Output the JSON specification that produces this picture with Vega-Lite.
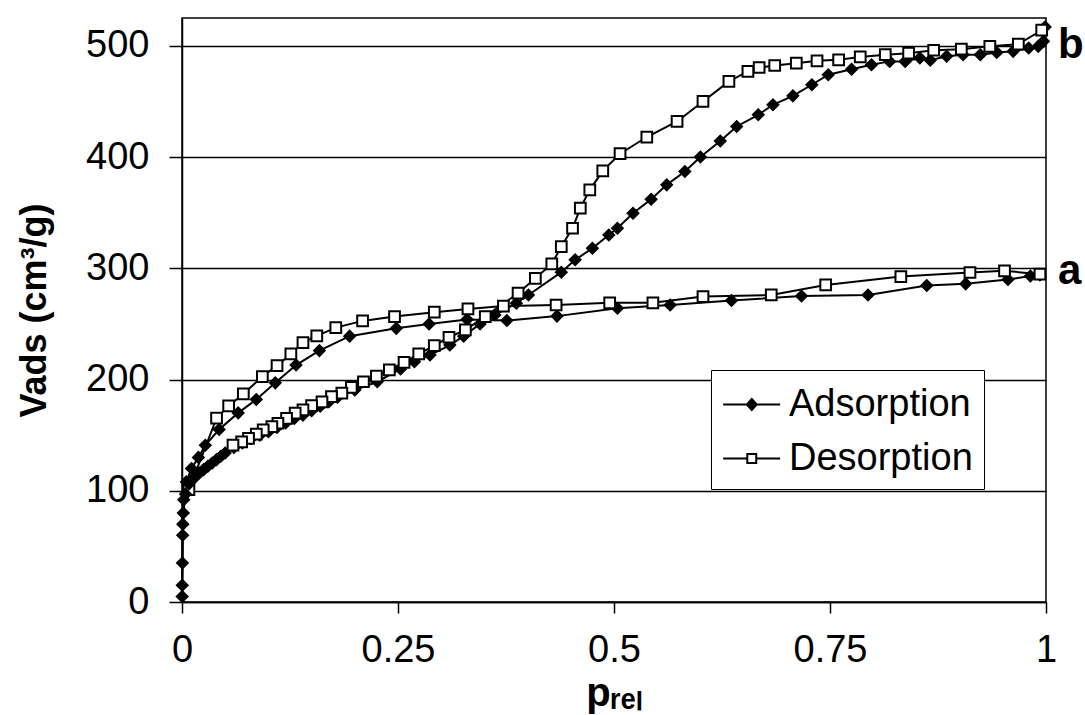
{
  "$schema": "https://vega.github.io/schema/vega-lite/v6.json",
  "width": 864,
  "height": 584,
  "autosize": "none",
  "padding": {"left": 182, "top": 18, "right": 39, "bottom": 113},
  "background": "white",
  "config": {
    "view": {"stroke": "black", "strokeWidth": 1.5},
    "font": "Liberation Sans",
    "axis": {
      "domainColor": "black", "domainWidth": 1.5,
      "tickColor": "black", "tickWidth": 1.5,
      "labelColor": "black", "labelFont": "Liberation Sans", "labelFontSize": 38,
      "titleColor": "black", "titleFont": "Liberation Sans", "titleFontWeight": "bold",
      "labelFlush": false, "labelOverlap": false
    },
    "legend": {
      "title": null, "orient": "none", "legendX": 529, "legendY": 352,
      "strokeColor": "black", "fillColor": "white", "padding": 11,
      "labelFont": "Liberation Sans", "labelFontSize": 38, "labelColor": "black",
      "labelLimit": 0, "labelOffset": 20, "rowPadding": 11,
      "symbolSize": 2000, "symbolStrokeWidth": 2, "symbolStrokeColor": "black",
      "symbolOpacity": 1
    }
  },
  "datasets": {
    "iso": [
      {"sample": "a", "type": "Adsorption", "p": 0.0002, "v": 5},
      {"sample": "a", "type": "Adsorption", "p": 0.0005, "v": 35},
      {"sample": "a", "type": "Adsorption", "p": 0.001, "v": 70},
      {"sample": "a", "type": "Adsorption", "p": 0.002, "v": 92},
      {"sample": "a", "type": "Adsorption", "p": 0.005, "v": 108},
      {"sample": "a", "type": "Adsorption", "p": 0.011, "v": 120},
      {"sample": "a", "type": "Adsorption", "p": 0.019, "v": 130},
      {"sample": "a", "type": "Adsorption", "p": 0.027, "v": 141},
      {"sample": "a", "type": "Adsorption", "p": 0.043, "v": 155},
      {"sample": "a", "type": "Adsorption", "p": 0.065, "v": 170},
      {"sample": "a", "type": "Adsorption", "p": 0.086, "v": 182},
      {"sample": "a", "type": "Adsorption", "p": 0.108, "v": 197},
      {"sample": "a", "type": "Adsorption", "p": 0.132, "v": 213},
      {"sample": "a", "type": "Adsorption", "p": 0.159, "v": 226},
      {"sample": "a", "type": "Adsorption", "p": 0.194, "v": 239},
      {"sample": "a", "type": "Adsorption", "p": 0.248, "v": 246},
      {"sample": "a", "type": "Adsorption", "p": 0.286, "v": 250},
      {"sample": "a", "type": "Adsorption", "p": 0.33, "v": 254},
      {"sample": "a", "type": "Adsorption", "p": 0.376, "v": 253},
      {"sample": "a", "type": "Adsorption", "p": 0.434, "v": 257},
      {"sample": "a", "type": "Adsorption", "p": 0.504, "v": 264},
      {"sample": "a", "type": "Adsorption", "p": 0.565, "v": 267},
      {"sample": "a", "type": "Adsorption", "p": 0.636, "v": 271},
      {"sample": "a", "type": "Adsorption", "p": 0.717, "v": 275},
      {"sample": "a", "type": "Adsorption", "p": 0.794, "v": 276},
      {"sample": "a", "type": "Adsorption", "p": 0.862, "v": 284.6},
      {"sample": "a", "type": "Adsorption", "p": 0.907, "v": 286},
      {"sample": "a", "type": "Adsorption", "p": 0.956, "v": 290},
      {"sample": "a", "type": "Adsorption", "p": 0.982, "v": 293},
      {"sample": "a", "type": "Adsorption", "p": 0.993, "v": 294},
      {"sample": "a", "type": "Desorption", "p": 0.993, "v": 294.7},
      {"sample": "a", "type": "Desorption", "p": 0.952, "v": 297.7},
      {"sample": "a", "type": "Desorption", "p": 0.912, "v": 296.2},
      {"sample": "a", "type": "Desorption", "p": 0.832, "v": 292.6},
      {"sample": "a", "type": "Desorption", "p": 0.745, "v": 285},
      {"sample": "a", "type": "Desorption", "p": 0.682, "v": 276},
      {"sample": "a", "type": "Desorption", "p": 0.603, "v": 274.6},
      {"sample": "a", "type": "Desorption", "p": 0.545, "v": 269},
      {"sample": "a", "type": "Desorption", "p": 0.495, "v": 269},
      {"sample": "a", "type": "Desorption", "p": 0.433, "v": 267},
      {"sample": "a", "type": "Desorption", "p": 0.372, "v": 266},
      {"sample": "a", "type": "Desorption", "p": 0.331, "v": 263.5},
      {"sample": "a", "type": "Desorption", "p": 0.292, "v": 260.5},
      {"sample": "a", "type": "Desorption", "p": 0.246, "v": 256.6},
      {"sample": "a", "type": "Desorption", "p": 0.209, "v": 252.7},
      {"sample": "a", "type": "Desorption", "p": 0.178, "v": 246.7},
      {"sample": "a", "type": "Desorption", "p": 0.156, "v": 239.2},
      {"sample": "a", "type": "Desorption", "p": 0.14, "v": 233.2},
      {"sample": "a", "type": "Desorption", "p": 0.126, "v": 223},
      {"sample": "a", "type": "Desorption", "p": 0.11, "v": 212.5},
      {"sample": "a", "type": "Desorption", "p": 0.093, "v": 202.6},
      {"sample": "a", "type": "Desorption", "p": 0.071, "v": 187},
      {"sample": "a", "type": "Desorption", "p": 0.054, "v": 176.3},
      {"sample": "a", "type": "Desorption", "p": 0.04, "v": 165.2},
      {"sample": "a", "type": "Desorption", "p": 0.008, "v": 101},
      {"sample": "b", "type": "Adsorption", "p": 0.0003, "v": 15},
      {"sample": "b", "type": "Adsorption", "p": 0.0008, "v": 60},
      {"sample": "b", "type": "Adsorption", "p": 0.0015, "v": 80},
      {"sample": "b", "type": "Adsorption", "p": 0.004, "v": 97},
      {"sample": "b", "type": "Adsorption", "p": 0.008, "v": 106},
      {"sample": "b", "type": "Adsorption", "p": 0.012, "v": 110},
      {"sample": "b", "type": "Adsorption", "p": 0.016, "v": 113},
      {"sample": "b", "type": "Adsorption", "p": 0.02, "v": 116},
      {"sample": "b", "type": "Adsorption", "p": 0.025, "v": 119},
      {"sample": "b", "type": "Adsorption", "p": 0.03, "v": 122},
      {"sample": "b", "type": "Adsorption", "p": 0.035, "v": 125},
      {"sample": "b", "type": "Adsorption", "p": 0.04, "v": 128},
      {"sample": "b", "type": "Adsorption", "p": 0.045, "v": 131},
      {"sample": "b", "type": "Adsorption", "p": 0.05, "v": 134},
      {"sample": "b", "type": "Adsorption", "p": 0.06, "v": 139},
      {"sample": "b", "type": "Adsorption", "p": 0.07, "v": 143},
      {"sample": "b", "type": "Adsorption", "p": 0.08, "v": 147},
      {"sample": "b", "type": "Adsorption", "p": 0.09, "v": 150},
      {"sample": "b", "type": "Adsorption", "p": 0.1, "v": 153},
      {"sample": "b", "type": "Adsorption", "p": 0.11, "v": 157},
      {"sample": "b", "type": "Adsorption", "p": 0.12, "v": 161},
      {"sample": "b", "type": "Adsorption", "p": 0.13, "v": 165},
      {"sample": "b", "type": "Adsorption", "p": 0.14, "v": 168},
      {"sample": "b", "type": "Adsorption", "p": 0.15, "v": 172},
      {"sample": "b", "type": "Adsorption", "p": 0.16, "v": 176},
      {"sample": "b", "type": "Adsorption", "p": 0.17, "v": 180},
      {"sample": "b", "type": "Adsorption", "p": 0.18, "v": 184},
      {"sample": "b", "type": "Adsorption", "p": 0.2, "v": 190.6},
      {"sample": "b", "type": "Adsorption", "p": 0.226, "v": 198},
      {"sample": "b", "type": "Adsorption", "p": 0.253, "v": 209.5},
      {"sample": "b", "type": "Adsorption", "p": 0.269, "v": 216},
      {"sample": "b", "type": "Adsorption", "p": 0.287, "v": 222},
      {"sample": "b", "type": "Adsorption", "p": 0.31, "v": 231},
      {"sample": "b", "type": "Adsorption", "p": 0.326, "v": 239},
      {"sample": "b", "type": "Adsorption", "p": 0.345, "v": 250},
      {"sample": "b", "type": "Adsorption", "p": 0.362, "v": 258},
      {"sample": "b", "type": "Adsorption", "p": 0.387, "v": 268.6},
      {"sample": "b", "type": "Adsorption", "p": 0.401, "v": 276},
      {"sample": "b", "type": "Adsorption", "p": 0.439, "v": 296.5},
      {"sample": "b", "type": "Adsorption", "p": 0.455, "v": 307.6},
      {"sample": "b", "type": "Adsorption", "p": 0.475, "v": 318},
      {"sample": "b", "type": "Adsorption", "p": 0.494, "v": 330},
      {"sample": "b", "type": "Adsorption", "p": 0.504, "v": 336},
      {"sample": "b", "type": "Adsorption", "p": 0.522, "v": 349.5},
      {"sample": "b", "type": "Adsorption", "p": 0.543, "v": 362},
      {"sample": "b", "type": "Adsorption", "p": 0.561, "v": 375},
      {"sample": "b", "type": "Adsorption", "p": 0.582, "v": 387},
      {"sample": "b", "type": "Adsorption", "p": 0.6, "v": 400},
      {"sample": "b", "type": "Adsorption", "p": 0.623, "v": 414.5},
      {"sample": "b", "type": "Adsorption", "p": 0.642, "v": 427.5},
      {"sample": "b", "type": "Adsorption", "p": 0.667, "v": 438},
      {"sample": "b", "type": "Adsorption", "p": 0.684, "v": 447},
      {"sample": "b", "type": "Adsorption", "p": 0.707, "v": 455},
      {"sample": "b", "type": "Adsorption", "p": 0.729, "v": 465},
      {"sample": "b", "type": "Adsorption", "p": 0.748, "v": 474},
      {"sample": "b", "type": "Adsorption", "p": 0.775, "v": 479},
      {"sample": "b", "type": "Adsorption", "p": 0.798, "v": 483},
      {"sample": "b", "type": "Adsorption", "p": 0.819, "v": 486},
      {"sample": "b", "type": "Adsorption", "p": 0.837, "v": 486},
      {"sample": "b", "type": "Adsorption", "p": 0.854, "v": 489},
      {"sample": "b", "type": "Adsorption", "p": 0.866, "v": 487},
      {"sample": "b", "type": "Adsorption", "p": 0.885, "v": 490.6},
      {"sample": "b", "type": "Adsorption", "p": 0.904, "v": 492},
      {"sample": "b", "type": "Adsorption", "p": 0.924, "v": 492},
      {"sample": "b", "type": "Adsorption", "p": 0.943, "v": 494},
      {"sample": "b", "type": "Adsorption", "p": 0.962, "v": 495},
      {"sample": "b", "type": "Adsorption", "p": 0.98, "v": 498},
      {"sample": "b", "type": "Adsorption", "p": 0.991, "v": 499.5},
      {"sample": "b", "type": "Adsorption", "p": 0.997, "v": 504},
      {"sample": "b", "type": "Adsorption", "p": 0.999, "v": 517},
      {"sample": "b", "type": "Desorption", "p": 0.995, "v": 514},
      {"sample": "b", "type": "Desorption", "p": 0.968, "v": 501.5},
      {"sample": "b", "type": "Desorption", "p": 0.935, "v": 499.5},
      {"sample": "b", "type": "Desorption", "p": 0.902, "v": 497},
      {"sample": "b", "type": "Desorption", "p": 0.87, "v": 496},
      {"sample": "b", "type": "Desorption", "p": 0.841, "v": 493.4},
      {"sample": "b", "type": "Desorption", "p": 0.814, "v": 492},
      {"sample": "b", "type": "Desorption", "p": 0.785, "v": 490},
      {"sample": "b", "type": "Desorption", "p": 0.76, "v": 487.4},
      {"sample": "b", "type": "Desorption", "p": 0.735, "v": 486.5},
      {"sample": "b", "type": "Desorption", "p": 0.711, "v": 484.4},
      {"sample": "b", "type": "Desorption", "p": 0.686, "v": 482.3},
      {"sample": "b", "type": "Desorption", "p": 0.668, "v": 480.5},
      {"sample": "b", "type": "Desorption", "p": 0.655, "v": 477},
      {"sample": "b", "type": "Desorption", "p": 0.633, "v": 468},
      {"sample": "b", "type": "Desorption", "p": 0.603, "v": 450},
      {"sample": "b", "type": "Desorption", "p": 0.573, "v": 432},
      {"sample": "b", "type": "Desorption", "p": 0.538, "v": 418},
      {"sample": "b", "type": "Desorption", "p": 0.507, "v": 403},
      {"sample": "b", "type": "Desorption", "p": 0.487, "v": 387.6},
      {"sample": "b", "type": "Desorption", "p": 0.472, "v": 370.5},
      {"sample": "b", "type": "Desorption", "p": 0.461, "v": 354},
      {"sample": "b", "type": "Desorption", "p": 0.452, "v": 336},
      {"sample": "b", "type": "Desorption", "p": 0.439, "v": 319.5},
      {"sample": "b", "type": "Desorption", "p": 0.428, "v": 304},
      {"sample": "b", "type": "Desorption", "p": 0.409, "v": 291},
      {"sample": "b", "type": "Desorption", "p": 0.389, "v": 277.6},
      {"sample": "b", "type": "Desorption", "p": 0.351, "v": 256.6},
      {"sample": "b", "type": "Desorption", "p": 0.328, "v": 244.6},
      {"sample": "b", "type": "Desorption", "p": 0.309, "v": 238},
      {"sample": "b", "type": "Desorption", "p": 0.292, "v": 230.5},
      {"sample": "b", "type": "Desorption", "p": 0.274, "v": 223},
      {"sample": "b", "type": "Desorption", "p": 0.257, "v": 215.5},
      {"sample": "b", "type": "Desorption", "p": 0.24, "v": 208.6},
      {"sample": "b", "type": "Desorption", "p": 0.225, "v": 203},
      {"sample": "b", "type": "Desorption", "p": 0.21, "v": 198},
      {"sample": "b", "type": "Desorption", "p": 0.196, "v": 193},
      {"sample": "b", "type": "Desorption", "p": 0.185, "v": 187.7},
      {"sample": "b", "type": "Desorption", "p": 0.173, "v": 184.6},
      {"sample": "b", "type": "Desorption", "p": 0.162, "v": 180},
      {"sample": "b", "type": "Desorption", "p": 0.15, "v": 176.5},
      {"sample": "b", "type": "Desorption", "p": 0.14, "v": 172.7},
      {"sample": "b", "type": "Desorption", "p": 0.131, "v": 169.7},
      {"sample": "b", "type": "Desorption", "p": 0.121, "v": 165},
      {"sample": "b", "type": "Desorption", "p": 0.111, "v": 160.7},
      {"sample": "b", "type": "Desorption", "p": 0.104, "v": 157.7},
      {"sample": "b", "type": "Desorption", "p": 0.094, "v": 154.7},
      {"sample": "b", "type": "Desorption", "p": 0.086, "v": 151},
      {"sample": "b", "type": "Desorption", "p": 0.077, "v": 147},
      {"sample": "b", "type": "Desorption", "p": 0.069, "v": 144},
      {"sample": "b", "type": "Desorption", "p": 0.059, "v": 141}
    ],
    "labels": [
      {"p": 1, "v": 501, "label": "b"},
      {"p": 1, "v": 298, "label": "a"}
    ]
  },
  "layer": [
    {
      "data": {"name": "iso"},
      "mark": {"type": "line", "color": "black", "strokeWidth": 2},
      "encoding": {
        "x": {"field": "p", "type": "quantitative",
              "scale": {"domain": [0, 1], "nice": false, "zero": false},
              "axis": {"values": [0, 0.25, 0.5, 0.75, 1], "format": "~g", "grid": false,
                       "tickSize": 11, "labelPadding": 18, "title": "pᵣₑₗ",
                       "titleFontSize": 40, "titlePadding": 4}},
        "y": {"field": "v", "type": "quantitative",
              "scale": {"domain": [0, 525], "nice": false},
              "axis": {"values": [0, 100, 200, 300, 400, 500], "grid": true,
                       "gridColor": "black", "gridWidth": 1.3, "gridOpacity": 1,
                       "tickSize": 13, "labelPadding": 20,
                       "title": "Vads (cm³/g)", "titleFontSize": 36, "titlePadding": 32}},
        "detail": [{"field": "sample"}, {"field": "type"}]
      }
    },
    {
      "data": {"name": "iso"},
      "mark": {"type": "point", "filled": true, "stroke": "black", "strokeWidth": 2, "opacity": 1, "size": 115},
      "encoding": {
        "x": {"field": "p", "type": "quantitative"},
        "y": {"field": "v", "type": "quantitative"},
        "shape": {"condition": {"test": "datum.type === 'Adsorption'", "value": "diamond"}, "value": "square"},
        "fill": {"condition": {"test": "datum.type === 'Adsorption'", "value": "black"}, "value": "white"}
      }
    },
    {
      "data": {"name": "iso"},
      "mark": {"type": "point", "filled": true, "opacity": 0, "size": 0},
      "encoding": {
        "x": {"field": "p", "type": "quantitative"},
        "y": {"field": "v", "type": "quantitative"},
        "shape": {"field": "type", "type": "nominal",
                  "scale": {"domain": ["Adsorption", "Desorption"],
                            "range": ["M-1,0L1.55,0M0.28,-0.25L0.504,0L0.28,0.25L0.056,0Z",
                                      "M-1,0L0.08,0M0.48,0L1.55,0M0.08,-0.2L0.48,-0.2L0.48,0.2L0.08,0.2Z"]},
                  "legend": {"encoding": {"symbols": {"stroke": {"value": "black"}, "strokeWidth": {"value": 2}, "opacity": {"value": 1}}}}},
        "fill": {"field": "type", "type": "nominal",
                 "scale": {"domain": ["Adsorption", "Desorption"], "range": ["black", "white"]},
                 "legend": {"encoding": {"symbols": {"stroke": {"value": "black"}, "strokeWidth": {"value": 2}, "opacity": {"value": 1}}}}}
      }
    },
    {
      "data": {"name": "labels"},
      "mark": {"type": "text", "align": "left", "baseline": "middle", "dx": 12,
               "fontSize": 42, "fontWeight": "bold", "font": "Liberation Sans", "color": "black"},
      "encoding": {
        "x": {"field": "p", "type": "quantitative"},
        "y": {"field": "v", "type": "quantitative"},
        "text": {"field": "label"}
      }
    }
  ]
}
